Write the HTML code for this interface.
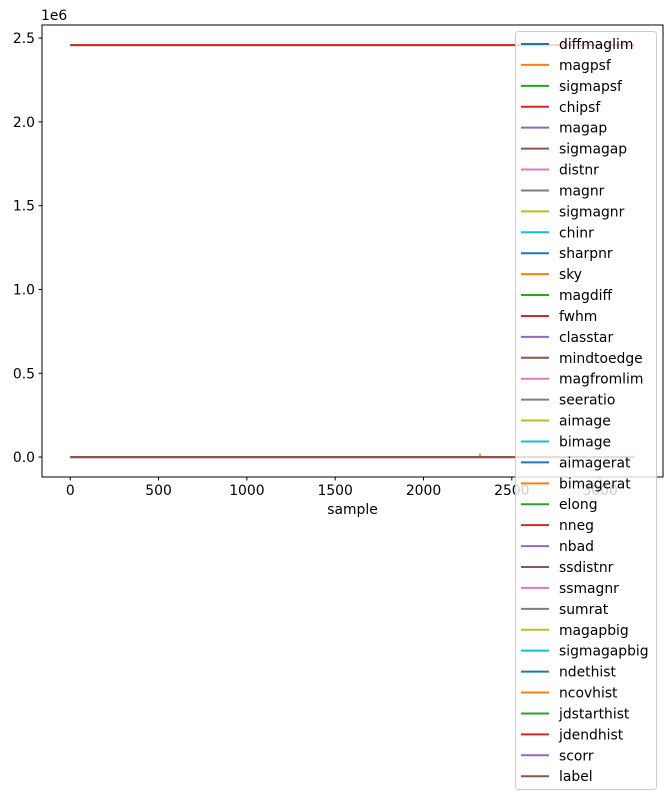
<!DOCTYPE html>
<html><head><meta charset="utf-8"><style>
html,body{margin:0;padding:0;background:#fff;}
svg text{font-family:"DejaVu Sans","Liberation Sans",sans-serif;font-size:13.9px;fill:#000;}
</style></head><body>
<svg id="chart" width="671" height="800"></svg>
<script>
const seriesNames=["diffmaglim","magpsf","sigmapsf","chipsf","magap","sigmagap","distnr","magnr","sigmagnr","chinr","sharpnr","sky","magdiff","fwhm","classtar","mindtoedge","magfromlim","seeratio","aimage","bimage","aimagerat","bimagerat","elong","nneg","nbad","ssdistnr","ssmagnr","sumrat","magapbig","sigmagapbig","ndethist","ncovhist","jdstarthist","jdendhist","scorr","label"];
const seriesLevels=[20,18,0.1,2,18,0.1,5,18,0.05,1,0,0,0,2,1,500,2,1,1,1,0.5,0.5,1,3,0,-999,-999,1,18,0.1,50,400,2458000,2458000,10,0];
const sampleRange=[0,3196];
const spikeSample=[2320];
const spikeValue=[9000];
const xTicks=[0,500,1000,1500,2000,2500,3000];
const yTicks=[0,0.5,1.0,1.5,2.0,2.5];
const colors=["#1f77b4","#ff7f0e","#2ca02c","#d62728","#9467bd","#8c564b","#e377c2","#7f7f7f","#bcbd22","#17becf"];
const NS="http://www.w3.org/2000/svg";
const svg=document.getElementById('chart');
const L=42,R=663,T=25,B=477;
const xMin=-160,xMax=3356,yMin=-0.119e6,yMax=2.578e6;
const xs=v=>L+(v-xMin)/(xMax-xMin)*(R-L);
const ys=v=>B-(v-yMin)/(yMax-yMin)*(B-T);
function mk(tag,attrs){const e=document.createElementNS(NS,tag);for(const k in attrs)e.setAttribute(k,attrs[k]);svg.appendChild(e);return e;}
seriesNames.forEach((n,i)=>{
  let pts=[[sampleRange[0],seriesLevels[i]],[sampleRange[1],seriesLevels[i]]];
  if(n==="sky"){pts=[[sampleRange[0],0],[spikeSample[0]-3,0],[spikeSample[0],spikeValue[0]],[spikeSample[0]+3,0],[sampleRange[1],0]];}
  const p=mk('polyline',{points:pts.map(q=>xs(q[0])+','+ys(q[1])).join(' '),fill:'none',stroke:colors[i%10],'stroke-width':2});
  
  
});
const fr=mk('rect',{x:L,y:T,width:R-L,height:B-T,fill:'none',stroke:'#000','stroke-width':1});


xTicks.forEach(t=>{
  const x=xs(t);
  const l=mk('line',{x1:x,x2:x,y1:B,y2:B+3.5,stroke:'#000'});
  
  
  const tx=mk('text',{x:x,y:B+18,'text-anchor':'middle'});tx.textContent=t;
  
  
});
yTicks.forEach(t=>{
  const y=ys(t*1e6);
  const l=mk('line',{x1:L-3.5,x2:L,y1:y,y2:y,stroke:'#000'});
  
  
  const tx=mk('text',{x:L-7,y:y+5,'text-anchor':'end'});tx.textContent=t.toFixed(1);
  
  
});
const off=mk('text',{x:L-1,y:T-5});off.textContent='1e6';


const xl=mk('text',{x:(L+R)/2,y:B+37,'text-anchor':'middle'});xl.textContent='sample';


const lg=mk('rect',{x:515.5,y:31.5,width:141,height:758,fill:'#fff','fill-opacity':0.8,stroke:'#ccc',rx:3});


seriesNames.forEach((n,i)=>{
  const y=44+i*20.92;
  const l=mk('line',{x1:521,x2:549,y1:y,y2:y,stroke:colors[i%10],'stroke-width':2});
  
  
  const tx=mk('text',{x:559,y:y+5});tx.textContent=n;
  
  
});
</script>
</body></html>
